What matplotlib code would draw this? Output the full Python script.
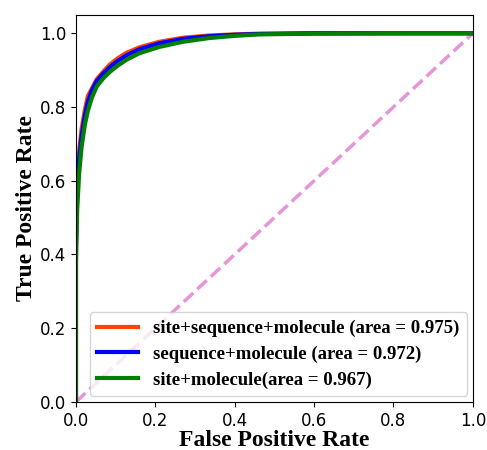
import matplotlib
matplotlib.use("Agg")
import matplotlib.pyplot as plt

fpr_a = [0.0, 0.0, 0.003, 0.008, 0.014, 0.022, 0.03, 0.04, 0.052, 0.068, 0.085, 0.105, 0.127, 0.16, 0.21, 0.27, 0.335, 0.40, 0.46, 0.6, 0.8, 1.0]
tpr_a = [0.0, 0.45, 0.60, 0.68, 0.74, 0.79, 0.83, 0.85, 0.875, 0.895, 0.915, 0.932, 0.947, 0.962, 0.977, 0.988, 0.994, 0.997, 0.999, 1.0, 1.0, 1.0]

fpr_b = [0.0, 0.0, 0.003, 0.008, 0.014, 0.022, 0.03, 0.04, 0.052, 0.068, 0.085, 0.105, 0.127, 0.16, 0.21, 0.27, 0.335, 0.40, 0.46, 0.6, 0.8, 1.0]
tpr_b = [0.0, 0.42, 0.57, 0.66, 0.72, 0.775, 0.815, 0.845, 0.87, 0.89, 0.908, 0.925, 0.94, 0.957, 0.973, 0.985, 0.992, 0.996, 0.998, 1.0, 1.0, 1.0]

fpr_c = [0.0, 0.0, 0.003, 0.008, 0.014, 0.022, 0.03, 0.04, 0.052, 0.068, 0.085, 0.105, 0.127, 0.16, 0.21, 0.27, 0.335, 0.40, 0.46, 0.6, 0.8, 1.0]
tpr_c = [0.0, 0.38, 0.52, 0.62, 0.69, 0.75, 0.79, 0.825, 0.855, 0.877, 0.895, 0.912, 0.928, 0.946, 0.963, 0.977, 0.987, 0.993, 0.997, 0.999, 1.0, 1.0]

labels = ["site+sequence+molecule (area = 0.975)",
          "sequence+molecule (area = 0.972)",
          "site+molecule(area = 0.967)"]
colors = ["orangered", "blue", "green"]

fig = plt.figure(figsize=(4.87, 4.5), dpi=100)
ax = fig.add_axes([0.156, 0.107, 0.815, 0.860])

ax.plot([0, 1], [0, 1], color="#e696d8", lw=2.5, linestyle="--")
for fx, ty, lab, c in zip([fpr_a, fpr_b, fpr_c], [tpr_a, tpr_b, tpr_c], labels, colors):
    ax.plot(fx, ty, color=c, lw=3, label=lab)

ax.set_xlim(0, 1.0)
ax.set_ylim(0, 1.05)
ax.set_xticks([0, 0.2, 0.4, 0.6, 0.8, 1.0])
ax.set_yticks([0, 0.2, 0.4, 0.6, 0.8, 1.0])
ax.tick_params(labelsize=12)
ax.set_xlabel("False Positive Rate", fontsize=17, fontweight="bold", family="Liberation Serif", labelpad=0)
ax.set_ylabel("True Positive Rate", fontsize=17, fontweight="bold", family="Liberation Serif", labelpad=2)
ax.legend(loc="lower right", prop={"family": "Liberation Serif", "weight": "bold", "size": 13.5},
          handlelength=2.2, borderaxespad=0.3, labelspacing=0.45)

fig.savefig("out.png", dpi=100)
